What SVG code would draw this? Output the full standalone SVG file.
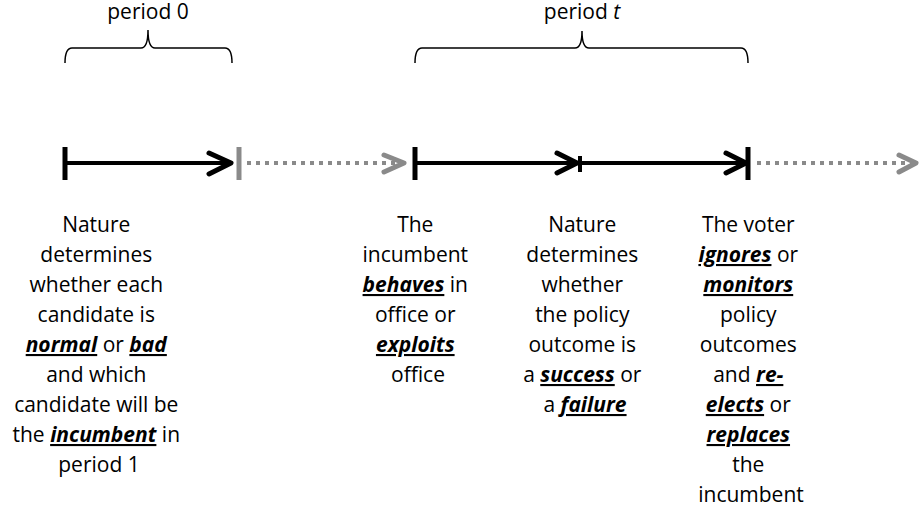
<svg xmlns="http://www.w3.org/2000/svg" width="920" height="512" viewBox="0 0 920 512">
<style>
  text { font-family: "Open Sans", "Liberation Sans", sans-serif; font-size: 21px; fill: #000; text-anchor: middle; }
  .em { font-weight: bold; font-style: italic; text-decoration: underline; }
  .brace { fill: none; stroke: #000; stroke-width: 1.5; }
  .solid { stroke: #000; stroke-width: 4; fill: none; }
  .dot { stroke: #8a8a8a; stroke-width: 4; stroke-dasharray: 4 5; fill: none; }
  .tick { stroke: #000; stroke-width: 5; }
  .gtick { stroke: #8a8a8a; stroke-width: 5; }
  .head { stroke: #000; stroke-width: 5; fill: none; stroke-linecap: round; stroke-linejoin: round; }
  .ghead { stroke: #8a8a8a; stroke-width: 5; fill: none; stroke-linecap: round; stroke-linejoin: round; }
</style>
<rect width="920" height="512" fill="#fff"/>

<g id="period0">
  <text x="148" y="19">period 0</text>
  <path class="brace" d="M65,63 Q65,48 72,48 L141,48 Q148,48 148,30 Q148,48 155,48 L225,48 Q232,48 232,63"/>
</g>
<g id="periodt">
  <text x="582" y="19">period <tspan font-style="italic">t</tspan></text>
  <path class="brace" d="M415,63 Q415,48 422,48 L575,48 Q582,48 582,31 Q582,48 589,48 L741,48 Q748,48 748,63"/>
</g>

<g id="connectors">
  <line class="tick" x1="65" y1="147" x2="65" y2="180"/>
  <line class="solid" x1="65" y1="163" x2="229" y2="163"/>
  <polyline class="head" points="209,153 231,163 209,174"/>
  <line class="gtick" x1="239" y1="147" x2="239" y2="180"/>
  <line class="dot" x1="247" y1="163" x2="400" y2="163"/>
  <polyline class="ghead" points="384,155 404,163 384,172"/>
  <line class="tick" x1="415" y1="147" x2="415" y2="180"/>
  <line class="solid" x1="415" y1="163" x2="576" y2="163"/>
  <polyline class="head" points="557,153 577,163 557,173"/>
  <line class="solid" x1="580" y1="156" x2="580" y2="172"/>
  <line class="solid" x1="580" y1="163" x2="744" y2="163"/>
  <polyline class="head" points="726,153 746,163 726,173"/>
  <line class="tick" x1="748" y1="147" x2="748" y2="180"/>
  <line class="dot" x1="757" y1="163" x2="912" y2="163"/>
  <polyline class="ghead" points="899,155 916,163 899,172"/>
</g>

<g id="event1">
  <text>
    <tspan x="99" y="232">Nature</tspan>
    <tspan x="99" y="262">determines</tspan>
    <tspan x="99" y="292">whether each</tspan>
    <tspan x="99" y="322">candidate is</tspan>
    <tspan x="99" y="352"><tspan class="em">normal</tspan> or <tspan class="em">bad</tspan></tspan>
    <tspan x="99" y="382">and which</tspan>
    <tspan x="99" y="412">candidate will be</tspan>
    <tspan x="99" y="442">the <tspan class="em">incumbent</tspan> in</tspan>
    <tspan x="99" y="472">period 1</tspan>
  </text>
</g>

<g id="event2">
  <text>
    <tspan x="418" y="232">The</tspan>
    <tspan x="418" y="262">incumbent</tspan>
    <tspan x="418" y="292"><tspan class="em">behaves</tspan> in</tspan>
    <tspan x="418" y="322">office or</tspan>
    <tspan x="418" y="352"><tspan class="em">exploits</tspan></tspan>
    <tspan x="418" y="382">office</tspan>
  </text>
</g>

<g id="event3">
  <text>
    <tspan x="585" y="232">Nature</tspan>
    <tspan x="585" y="262">determines</tspan>
    <tspan x="585" y="292">whether</tspan>
    <tspan x="585" y="322">the policy</tspan>
    <tspan x="585" y="352">outcome is</tspan>
    <tspan x="585" y="382">a <tspan class="em">success</tspan> or</tspan>
    <tspan x="585" y="412">a <tspan class="em">failure</tspan></tspan>
  </text>
</g>

<g id="event4">
  <text>
    <tspan x="751" y="232">The voter</tspan>
    <tspan x="751" y="262"><tspan class="em">ignores</tspan> or</tspan>
    <tspan x="751" y="292"><tspan class="em">monitors</tspan></tspan>
    <tspan x="751" y="322">policy</tspan>
    <tspan x="751" y="352">outcomes</tspan>
    <tspan x="751" y="382">and <tspan class="em">re-</tspan></tspan>
    <tspan x="751" y="412"><tspan class="em">elects</tspan> or</tspan>
    <tspan x="751" y="442"><tspan class="em">replaces</tspan></tspan>
    <tspan x="751" y="472">the</tspan>
    <tspan x="751" y="502">incumbent</tspan>
  </text>
</g>
</svg>
